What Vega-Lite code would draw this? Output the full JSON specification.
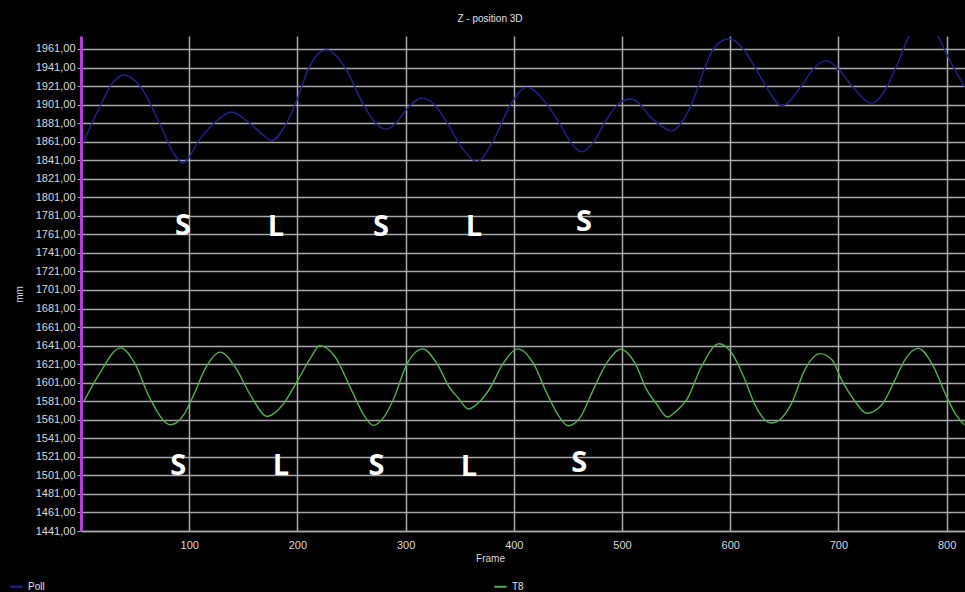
{
  "$schema": "https://vega.github.io/schema/vega-lite/v6.json",
  "width": 884,
  "height": 495,
  "autosize": {"type": "none"},
  "padding": {"left": 81, "top": 36, "right": 0, "bottom": 61},
  "background": "#000000",
  "title": {"text": "Z - position 3D", "fontSize": 10, "fontWeight": "normal", "font": "Liberation Sans", "color": "#e0e0e0", "anchor": "middle", "frame": "group", "dx": -33, "offset": 12},
  "datasets": {
    "curves": [
      {"series": "Poll", "frame": 2, "mm": 1860},
      {"series": "Poll", "frame": 18, "mm": 1900},
      {"series": "Poll", "frame": 28.4, "mm": 1923},
      {"series": "Poll", "frame": 39.7, "mm": 1933},
      {"series": "Poll", "frame": 54.5, "mm": 1921},
      {"series": "Poll", "frame": 73, "mm": 1880},
      {"series": "Poll", "frame": 85.3, "mm": 1849},
      {"series": "Poll", "frame": 94, "mm": 1838},
      {"series": "Poll", "frame": 110, "mm": 1864},
      {"series": "Poll", "frame": 123.8, "mm": 1882},
      {"series": "Poll", "frame": 139.3, "mm": 1893},
      {"series": "Poll", "frame": 154.6, "mm": 1882},
      {"series": "Poll", "frame": 168.5, "mm": 1868},
      {"series": "Poll", "frame": 176.2, "mm": 1862},
      {"series": "Poll", "frame": 188.5, "mm": 1878},
      {"series": "Poll", "frame": 199.3, "mm": 1905},
      {"series": "Poll", "frame": 210, "mm": 1939},
      {"series": "Poll", "frame": 219.3, "mm": 1956},
      {"series": "Poll", "frame": 227, "mm": 1960},
      {"series": "Poll", "frame": 244, "mm": 1941},
      {"series": "Poll", "frame": 261, "mm": 1901},
      {"series": "Poll", "frame": 273, "mm": 1880},
      {"series": "Poll", "frame": 282, "mm": 1874.5},
      {"series": "Poll", "frame": 291.8, "mm": 1882},
      {"series": "Poll", "frame": 301, "mm": 1896},
      {"series": "Poll", "frame": 315, "mm": 1908},
      {"series": "Poll", "frame": 327, "mm": 1900.5},
      {"series": "Poll", "frame": 338, "mm": 1882},
      {"series": "Poll", "frame": 353, "mm": 1853},
      {"series": "Poll", "frame": 365.7, "mm": 1839.6},
      {"series": "Poll", "frame": 381, "mm": 1862},
      {"series": "Poll", "frame": 396.5, "mm": 1900},
      {"series": "Poll", "frame": 412, "mm": 1919.6},
      {"series": "Poll", "frame": 430.4, "mm": 1901.5},
      {"series": "Poll", "frame": 442.7, "mm": 1880},
      {"series": "Poll", "frame": 455, "mm": 1856.5},
      {"series": "Poll", "frame": 462.7, "mm": 1850},
      {"series": "Poll", "frame": 473.5, "mm": 1860},
      {"series": "Poll", "frame": 485.8, "mm": 1885},
      {"series": "Poll", "frame": 498, "mm": 1903},
      {"series": "Poll", "frame": 507.4, "mm": 1907},
      {"series": "Poll", "frame": 516.6, "mm": 1901.5},
      {"series": "Poll", "frame": 525, "mm": 1889},
      {"series": "Poll", "frame": 532, "mm": 1881.7},
      {"series": "Poll", "frame": 546, "mm": 1872.7},
      {"series": "Poll", "frame": 555, "mm": 1881.7},
      {"series": "Poll", "frame": 564.4, "mm": 1901.5},
      {"series": "Poll", "frame": 576.7, "mm": 1941},
      {"series": "Poll", "frame": 584.4, "mm": 1961},
      {"series": "Poll", "frame": 599, "mm": 1972},
      {"series": "Poll", "frame": 612, "mm": 1961},
      {"series": "Poll", "frame": 623, "mm": 1941},
      {"series": "Poll", "frame": 633.7, "mm": 1919.6},
      {"series": "Poll", "frame": 647.6, "mm": 1899.7},
      {"series": "Poll", "frame": 666, "mm": 1921.4},
      {"series": "Poll", "frame": 676.8, "mm": 1939.4},
      {"series": "Poll", "frame": 688.5, "mm": 1948.4},
      {"series": "Poll", "frame": 700, "mm": 1939.4},
      {"series": "Poll", "frame": 712.3, "mm": 1921.4},
      {"series": "Poll", "frame": 730.8, "mm": 1902.6},
      {"series": "Poll", "frame": 744.6, "mm": 1919.6},
      {"series": "Poll", "frame": 753.9, "mm": 1943},
      {"series": "Poll", "frame": 765.5, "mm": 1975.4},
      {"series": "Poll", "frame": 778, "mm": 1992},
      {"series": "Poll", "frame": 791.8, "mm": 1975.4},
      {"series": "Poll", "frame": 800, "mm": 1955.6},
      {"series": "Poll", "frame": 817, "mm": 1919.6},
      {"series": "T8", "frame": 2.8, "mm": 1581},
      {"series": "T8", "frame": 15.7, "mm": 1608},
      {"series": "T8", "frame": 36.7, "mm": 1638.5},
      {"series": "T8", "frame": 49.6, "mm": 1622},
      {"series": "T8", "frame": 63.5, "mm": 1584.5},
      {"series": "T8", "frame": 82.9, "mm": 1555.6},
      {"series": "T8", "frame": 95.8, "mm": 1568},
      {"series": "T8", "frame": 105, "mm": 1590},
      {"series": "T8", "frame": 114.3, "mm": 1615},
      {"series": "T8", "frame": 129, "mm": 1634},
      {"series": "T8", "frame": 142, "mm": 1618.7},
      {"series": "T8", "frame": 157.4, "mm": 1586},
      {"series": "T8", "frame": 172, "mm": 1564.6},
      {"series": "T8", "frame": 185, "mm": 1575},
      {"series": "T8", "frame": 200.5, "mm": 1604},
      {"series": "T8", "frame": 212.9, "mm": 1629},
      {"series": "T8", "frame": 220.6, "mm": 1641},
      {"series": "T8", "frame": 234.5, "mm": 1629.5},
      {"series": "T8", "frame": 249.8, "mm": 1593.5},
      {"series": "T8", "frame": 262, "mm": 1565},
      {"series": "T8", "frame": 270, "mm": 1555},
      {"series": "T8", "frame": 279.4, "mm": 1563},
      {"series": "T8", "frame": 288.6, "mm": 1582.6},
      {"series": "T8", "frame": 301, "mm": 1620.5},
      {"series": "T8", "frame": 315.8, "mm": 1637.5},
      {"series": "T8", "frame": 328.7, "mm": 1622},
      {"series": "T8", "frame": 341, "mm": 1595},
      {"series": "T8", "frame": 348.7, "mm": 1584.5},
      {"series": "T8", "frame": 358, "mm": 1572.6},
      {"series": "T8", "frame": 368.8, "mm": 1581},
      {"series": "T8", "frame": 378, "mm": 1595},
      {"series": "T8", "frame": 390.3, "mm": 1622},
      {"series": "T8", "frame": 404, "mm": 1637.5},
      {"series": "T8", "frame": 418, "mm": 1622},
      {"series": "T8", "frame": 430.4, "mm": 1590},
      {"series": "T8", "frame": 442.7, "mm": 1563},
      {"series": "T8", "frame": 450.4, "mm": 1554.5},
      {"series": "T8", "frame": 461, "mm": 1563},
      {"series": "T8", "frame": 473.5, "mm": 1593.5},
      {"series": "T8", "frame": 485.8, "mm": 1622},
      {"series": "T8", "frame": 498.8, "mm": 1637},
      {"series": "T8", "frame": 512, "mm": 1622},
      {"series": "T8", "frame": 522.8, "mm": 1593.5},
      {"series": "T8", "frame": 532, "mm": 1578},
      {"series": "T8", "frame": 542, "mm": 1564},
      {"series": "T8", "frame": 549, "mm": 1569},
      {"series": "T8", "frame": 559.8, "mm": 1582.6},
      {"series": "T8", "frame": 573.6, "mm": 1618.7},
      {"series": "T8", "frame": 589.6, "mm": 1643},
      {"series": "T8", "frame": 601.4, "mm": 1633},
      {"series": "T8", "frame": 613.7, "mm": 1604},
      {"series": "T8", "frame": 622.9, "mm": 1577},
      {"series": "T8", "frame": 637.7, "mm": 1557.5},
      {"series": "T8", "frame": 647.6, "mm": 1563},
      {"series": "T8", "frame": 656.8, "mm": 1579},
      {"series": "T8", "frame": 669, "mm": 1615},
      {"series": "T8", "frame": 683, "mm": 1632.4},
      {"series": "T8", "frame": 693.8, "mm": 1626},
      {"series": "T8", "frame": 703, "mm": 1604},
      {"series": "T8", "frame": 715.3, "mm": 1581},
      {"series": "T8", "frame": 726, "mm": 1568},
      {"series": "T8", "frame": 740, "mm": 1577},
      {"series": "T8", "frame": 752.3, "mm": 1604},
      {"series": "T8", "frame": 761.6, "mm": 1626},
      {"series": "T8", "frame": 773.9, "mm": 1638},
      {"series": "T8", "frame": 786.2, "mm": 1622},
      {"series": "T8", "frame": 800, "mm": 1586},
      {"series": "T8", "frame": 807.8, "mm": 1568},
      {"series": "T8", "frame": 816.4, "mm": 1555.6}
    ],
    "letters": [
      {"label": "S", "frame": 94.2, "mm": 1770},
      {"label": "L", "frame": 180.1, "mm": 1769},
      {"label": "S", "frame": 277.2, "mm": 1769},
      {"label": "L", "frame": 363.1, "mm": 1769},
      {"label": "S", "frame": 464.8, "mm": 1774},
      {"label": "S", "frame": 89.8, "mm": 1511},
      {"label": "L", "frame": 184.7, "mm": 1511},
      {"label": "S", "frame": 273.2, "mm": 1511},
      {"label": "L", "frame": 358.5, "mm": 1510},
      {"label": "S", "frame": 460.4, "mm": 1514}
    ]
  },
  "layer": [
    {
      "data": {"name": "curves"},
      "mark": {"type": "line", "interpolate": "monotone", "clip": true, "strokeWidth": 1.4},
      "encoding": {
        "x": {
          "field": "frame", "type": "quantitative",
          "scale": {"domain": [0, 817], "nice": false, "zero": false},
          "axis": {
            "title": "Frame", "values": [100, 200, 300, 400, 500, 600, 700, 800], "tickCount": 20,
            "ticks": false, "labelPadding": 8, "titlePadding": 3, "titleX": 409,
            "domainColor": "#a8a8a8", "domainWidth": 1.5,
            "gridColor": "#a8a8a8", "gridWidth": 1.5, "labelFlush": false
          }
        },
        "y": {
          "field": "mm", "type": "quantitative",
          "scale": {"domain": [1441, 1975], "nice": false, "zero": false},
          "axis": {
            "title": "mm",
            "values": [1441, 1461, 1481, 1501, 1521, 1541, 1561, 1581, 1601, 1621, 1641, 1661, 1681, 1701, 1721, 1741, 1761, 1781, 1801, 1821, 1841, 1861, 1881, 1901, 1921, 1941, 1961],
            "tickCount": 40, "labelOverlap": false,
            "labelExpr": "replace(format(datum.value, '.2f'), '.', ',')",
            "tickSize": 4, "tickColor": "#a8a8a8", "labelPadding": 2,
            "domainColor": "#b040d8", "domainWidth": 3,
            "gridColor": "#a8a8a8", "gridWidth": 1.5,
            "titleX": -62, "titleY": 258, "titleAngle": -90, "titleAlign": "center", "titleBaseline": "middle"
          }
        },
        "color": {
          "field": "series", "type": "nominal",
          "scale": {"domain": ["Poll", "T8"], "range": ["#22228e", "#52ae4e"]},
          "legend": {
            "title": null, "orient": "none", "direction": "horizontal", "columns": 2,
            "legendX": -72, "legendY": 543, "columnPadding": 445,
            "symbolType": "stroke", "symbolSize": 150, "symbolStrokeWidth": 2,
            "labelColor": "#e0e0e0", "labelFontSize": 10, "labelFont": "Liberation Sans"
          }
        }
      }
    },
    {
      "data": {"name": "letters"},
      "mark": {"type": "text", "font": "Open Sans", "fontWeight": "bold", "fontSize": 29, "color": "#ffffff", "align": "center", "baseline": "middle"},
      "encoding": {
        "x": {"field": "frame", "type": "quantitative"},
        "y": {"field": "mm", "type": "quantitative"},
        "text": {"field": "label", "type": "nominal"}
      }
    }
  ],
  "config": {
    "view": {"stroke": null, "fill": "#000000"},
    "axis": {
      "labelColor": "#d8d8d8", "labelFont": "Liberation Sans", "labelFontSize": 11,
      "titleColor": "#d8d8d8", "titleFont": "Liberation Sans", "titleFontSize": 10, "titleFontWeight": "normal"
    }
  }
}
